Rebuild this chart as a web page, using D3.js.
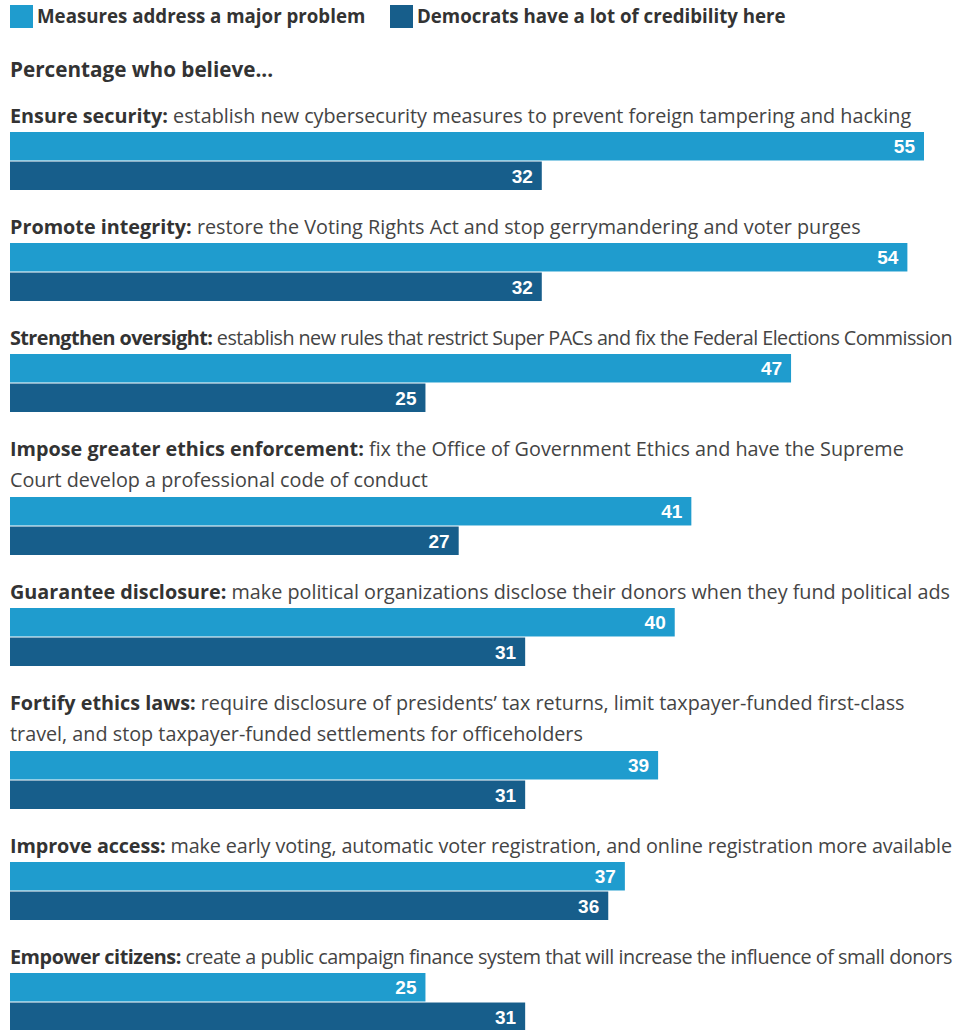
<!DOCTYPE html>
<html>
<head>
<meta charset="utf-8">
<script src="https://cdn.jsdelivr.net/npm/d3@7"></script>
<style>
  body { margin: 0; background: #fff; }
  svg { display: block; }
</style>
</head>
<body>
<svg id="chart" width="969" height="1030"></svg>
<script>
// data
const seriesNames = ["Measures address a major problem", "Democrats have a lot of credibility here"];
const seriesColors = ["#1f9cce", "#175e8b"];

const boldParts = [
  "Ensure security:",
  "Promote integrity:",
  "Strengthen oversight:",
  "Impose greater ethics enforcement:",
  "Guarantee disclosure:",
  "Fortify ethics laws:",
  "Improve access:",
  "Empower citizens:"
];
const restParts = [
  ["establish new cybersecurity measures to prevent foreign tampering and hacking"],
  ["restore the Voting Rights Act and stop gerrymandering and voter purges"],
  ["establish new rules that restrict Super PACs and fix the Federal Elections Commission"],
  ["fix the Office of Government Ethics and have the Supreme", "Court develop a professional code of conduct"],
  ["make political organizations disclose their donors when they fund political ads"],
  ["require disclosure of presidents\u2019 tax returns, limit taxpayer-funded first-class", "travel, and stop taxpayer-funded settlements for officeholders"],
  ["make early voting, automatic voter registration, and online registration more available"],
  ["create a public campaign finance system that will increase the influence of small donors"]
];
const majorProblem = [55, 54, 47, 41, 40, 39, 37, 25];
const credibility = [32, 32, 25, 27, 31, 31, 36, 31];

const heading = "Percentage who believe...";

const svg = d3.select("#chart");
const textFont = "'Open Sans', sans-serif";
const numFont = "'Liberation Sans', Arial, sans-serif";

const left = 10;
const maxTextWidth = 942;
const x = d3.scaleLinear().domain([0, 55]).range([left, 924]);

const bars = d3.scaleBand()
  .domain([0, 1])
  .range([0, 58])
  .paddingInner(0.035);

// legend
const legend = svg.append("g").attr("transform", "translate(10,5)");
const legendX = [0, 380];
seriesNames.forEach((name, i) => {
  const lg = legend.append("g").attr("transform", `translate(${legendX[i]},0)`);
  lg.append("rect").attr("width", 23).attr("height", 23).attr("fill", seriesColors[i]);
  lg.append("text")
    .attr("x", 27)
    .attr("y", 18)
    .style("font-family", textFont)
    .style("font-size", "18.7px")
    .style("font-weight", "bold")
    .attr("fill", "#333")
    .text(name);
});

svg.append("text")
  .attr("x", left)
  .attr("y", 77)
  .style("font-family", textFont)
  .style("font-size", "20.7px")
  .style("font-weight", "bold")
  .attr("fill", "#333")
  .text(heading);

// groups
const lineH = 31;
const extraLineShift = 32;
let cursor = 123; // baseline of first label
const groups = boldParts.map((b, i) => {
  const g = { bold: b, lines: restParts[i], vals: [majorProblem[i], credibility[i]], base: cursor };
  g.barTop = cursor + (g.lines.length - 1) * extraLineShift + 9;
  cursor = g.barTop + 58 + 44;
  return g;
});

const grp = svg.selectAll("g.group")
  .data(groups)
  .enter()
  .append("g")
  .attr("class", "group");

grp.each(function (d) {
  const g = d3.select(this);
  d.lines.forEach((line, li) => {
    const t = g.append("text")
      .attr("x", left)
      .attr("y", d.base + li * lineH)
      .style("font-family", textFont)
      .style("font-size", "19.8px")
      .attr("fill", "#444");
    if (li === 0) {
      t.append("tspan").style("font-weight", "bold").attr("fill", "#333").text(d.bold + " ");
    }
    t.append("tspan").text(line);
    // tighten the long lines so they stay inside the picture
    const w = t.node().getComputedTextLength();
    if (w > maxTextWidth) {
      const n = t.text().length;
      t.style("letter-spacing", `${-(w - maxTextWidth) / n}px`);
    }
  });

  g.selectAll("rect")
    .data(d.vals)
    .enter()
    .append("rect")
    .attr("x", left)
    .attr("y", (v, k) => d.barTop + bars(k))
    .attr("width", v => x(v) - left)
    .attr("height", bars.bandwidth())
    .attr("fill", (v, k) => seriesColors[k]);

  g.selectAll("text.value")
    .data(d.vals)
    .enter()
    .append("text")
    .attr("class", "value")
    .attr("x", v => x(v) - 9)
    .attr("y", (v, k) => d.barTop + bars(k) + bars.bandwidth() / 2 + 7)
    .attr("text-anchor", "end")
    .style("font-family", numFont)
    .style("font-size", "19px")
    .style("font-weight", "bold")
    .attr("fill", "#fff")
    .text(v => v);
});
</script>
</body>
</html>
